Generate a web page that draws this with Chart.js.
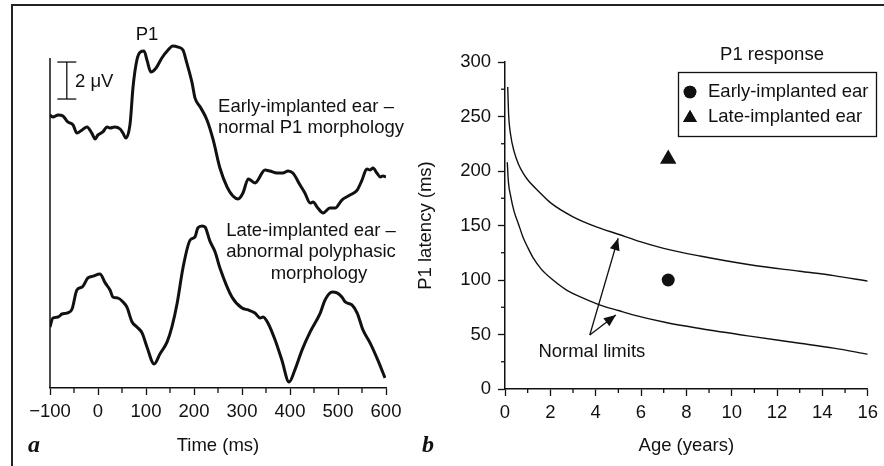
<!DOCTYPE html>
<html><head><meta charset="utf-8">
<script src="https://cdn.jsdelivr.net/npm/chart.js@4.4.1/dist/chart.umd.min.js"></script>
<style>
html,body{margin:0;padding:0;background:#fff;}
#wrap{position:relative;width:884px;height:466px;overflow:hidden;background:#fff;}
#frame{position:absolute;left:11px;top:4px;width:900px;height:500px;border-top:2px solid #222;border-left:2px solid #222;}
#a{position:absolute;left:0;top:0;}
#b{position:absolute;left:400px;top:0;}
</style></head><body>
<div id="wrap"><div id="frame"></div>
<canvas id="a" width="440" height="466"></canvas>
<canvas id="b" width="484" height="466"></canvas>
</div>
<script>
// ---------- Panel a: evoked responses (time in ms, amplitude in µV, arbitrary baseline) ----------
const earlyTime = [-100,-94,-83,-73,-63,-52,-44,-33,-23,-13,-6,0,10,19,25,35,46,52,58,67,73,81,88,96,102,110,121,133,146,156,167,177,185,196,202,213,227,240,254,269,281,292,302,313,327,348,358,373,385,396,406,421,431,442,448,458,469,483,494,508,525,540,550,560,567,573,581,588,594,600];
const earlyUV   = [14.76,14.65,14.76,14.70,14.38,14.22,13.78,13.95,14.11,13.78,13.46,13.68,13.84,14.11,14.05,14.11,14.00,13.78,13.51,14.32,16.27,17.73,18.16,18.22,17.73,17.08,17.30,17.84,18.27,18.49,18.43,18.27,17.57,16.49,15.68,15.19,14.49,13.41,11.89,10.86,10.38,10.22,10.54,11.30,11.08,11.78,11.73,11.62,11.62,11.73,11.62,10.97,10.54,10.00,10.05,9.73,9.46,9.73,9.73,10.16,10.43,10.70,11.24,11.84,11.78,11.89,11.62,11.41,11.46,11.41];
const lateTime  = [-100,-94,-83,-75,-65,-54,-44,-33,-21,-10,4,15,25,31,42,52,60,71,81,92,102,117,129,144,154,165,177,192,202,208,217,223,233,244,254,279,300,313,327,338,344,354,369,383,398,410,425,442,463,473,488,498,508,515,529,540,552,567,583,598];
const lateUV    = [3.30,3.78,3.84,4.00,4.05,4.27,5.30,5.46,5.95,6.05,6.16,5.68,5.30,4.92,4.86,4.65,4.38,3.57,3.30,2.97,2.22,1.30,1.84,2.49,3.30,4.59,6.49,8.00,8.16,8.65,8.76,8.70,7.95,7.35,6.49,4.92,4.32,4.22,4.05,3.78,3.84,3.51,2.59,1.51,0.32,0.97,2.05,3.03,4.05,4.76,5.19,5.14,4.92,4.65,4.49,4.05,3.14,2.43,1.51,0.54];
const timeTicks = [-100,0,100,200,300,400,500,600];
const timeMinor = [-50,50,150,250,350,450,550];

// ---------- Panel b: P1 latency vs age ----------
const ageUpper = [0.12,0.16,0.25,0.4,0.6,0.8,1.0,1.5,2.0,3.0,4.0,5.0,6.0,7.0,8.6,10.8,13.0,14.5,16.0];
const latUpper = [277,252,233,218,206,198,192,181,171,158,149,142,135,129,122,114,108,104,99];
const ageLower = [0.1,0.15,0.25,0.4,0.6,0.8,1.0,1.25,1.6,2.0,2.7,3.5,4.2,5.0,5.65,7.1,8.6,10.8,13.0,14.5,16.0];
const latLower = [208,190,177,163,151,139,130,120,110,102,91,83,77,72,68,61,55.5,48.5,42,37.5,32];
const childAge = [7.2];
const earlyLatency = [100];
const lateLatency = [211];
const seriesNames = ['Early-implanted ear','Late-implanted ear'];
const ageTicks = [0,2,4,6,8,10,12,14,16];
const ageMinor = [1,3,5,7,9,11,13,15];
const latTicks = [0,50,100,150,200,250,300];
const latMinor = [25,75,125,175,225,275];

const FONT = "'Liberation Sans', Arial, Helvetica, sans-serif";
const FS = 18.5;
const pairs = (xs, ys) => xs.map((x, i) => ({x: x, y: ys[i]}));

function text(ctx, s, x, y, align, font, base) {
  ctx.save();
  ctx.fillStyle = '#111';
  ctx.font = font || (FS + 'px ' + FONT);
  ctx.textAlign = align || 'center';
  ctx.textBaseline = base || 'middle';
  ctx.fillText(s, x, y);
  ctx.restore();
}
function line(ctx, x0, y0, x1, y1, w) {
  ctx.save();
  ctx.strokeStyle = '#111';
  ctx.lineWidth = w || 1.3;
  ctx.beginPath(); ctx.moveTo(x0, y0); ctx.lineTo(x1, y1); ctx.stroke();
  ctx.restore();
}
function arrow(ctx, x0, y0, x1, y1) {
  line(ctx, x0, y0, x1, y1, 1.3);
  const a = Math.atan2(y1 - y0, x1 - x0), L = 12, W = 5;
  ctx.save();
  ctx.fillStyle = '#111';
  ctx.beginPath();
  ctx.moveTo(x1, y1);
  ctx.lineTo(x1 - L * Math.cos(a) + W * Math.sin(a), y1 - L * Math.sin(a) - W * Math.cos(a));
  ctx.lineTo(x1 - L * Math.cos(a) - W * Math.sin(a), y1 - L * Math.sin(a) + W * Math.cos(a));
  ctx.closePath(); ctx.fill();
  ctx.restore();
}

const minorTicks = {
  id: 'minorTicks',
  afterDraw(chart, args, opts) {
    const ctx = chart.ctx;
    (opts.list || []).forEach(m => {
      const s = chart.scales[m.axis];
      m.values.forEach(v => {
        const p = s.getPixelForValue(v);
        if (m.axis === 'x') line(ctx, p, s.top, p, s.top + m.len, 1.3);
        else line(ctx, s.right - m.len, p, s.right, p, 1.3);
      });
    });
  }
};

const axisCommon = {
  border: {display: true, color: '#111', width: 1.5},
  grid: {drawOnChartArea: false, drawTicks: true, tickLength: 7, tickColor: '#111', tickWidth: 1.3},
};

// ---------- Chart a ----------
const panelA = {
  id: 'panelA',
  afterDatasetsDraw(chart) {
    const ctx = chart.ctx, xs = chart.scales.x, ys = chart.scales.y;
    // vertical amplitude axis
    const xa = xs.getPixelForValue(-100);
    line(ctx, xa, ys.getPixelForValue(0), xa, ys.getPixelForValue(17.84), 1.5);
    // 2 µV scale bar
    const xb = xs.getPixelForValue(-65);
    const yb0 = ys.getPixelForValue(15.62), yb1 = ys.getPixelForValue(17.62);
    line(ctx, xb, yb0, xb, yb1, 1.3);
    line(ctx, xb - 9.5, yb0, xb + 9.5, yb0, 1.3);
    line(ctx, xb - 9.5, yb1, xb + 9.5, yb1, 1.3);
    text(ctx, '2 \u03bcV', 75, 82, 'left');
    text(ctx, 'P1', 147, 35);
    text(ctx, 'Early-implanted ear \u2013', 306, 107);
    text(ctx, 'normal P1 morphology', 311, 128);
    text(ctx, 'Late-implanted ear \u2013', 311, 231);
    text(ctx, 'abnormal polyphasic', 311, 252);
    text(ctx, 'morphology', 319, 274);
    text(ctx, 'a', 34, 452, 'center', 'italic bold 24px "Liberation Serif", "Times New Roman", serif', 'alphabetic');
  }
};

new Chart(document.getElementById('a'), {
  type: 'line',
  data: {
    datasets: [
      {label: 'Early-implanted ear', data: pairs(earlyTime, earlyUV), borderColor: '#111', borderWidth: 3, pointRadius: 0, cubicInterpolationMode: 'monotone', fill: false},
      {label: 'Late-implanted ear', data: pairs(lateTime, lateUV), borderColor: '#111', borderWidth: 3, pointRadius: 0, cubicInterpolationMode: 'monotone', fill: false}
    ]
  },
  options: {
    responsive: false, animation: false, devicePixelRatio: 1,
    layout: {padding: {left: 50, right: 54, top: 27.25, bottom: 0}},
    plugins: {legend: {display: false}, tooltip: {enabled: false},
      minorTicks: {list: [{axis: 'x', values: timeMinor, len: 5}]}},
    scales: {
      x: Object.assign({}, axisCommon, {
        type: 'linear', min: -100, max: 600,
        afterFit: s => { s.height = 78; },
        afterBuildTicks: s => { s.ticks = timeTicks.map(v => ({value: v})); },
        ticks: {color: '#111', font: {family: FONT, size: FS}, padding: 6, maxRotation: 0,
          callback: v => String(v).replace('-', '\u2212')},
        title: {display: true, text: 'Time (ms)', color: '#111', font: {family: FONT, size: FS}, padding: {top: 0, bottom: 9}}
      }),
      y: {type: 'linear', display: false, min: 0, max: 19.5}
    }
  },
  plugins: [minorTicks, panelA]
});

// ---------- Chart b ----------
const panelB = {
  id: 'panelB',
  afterDatasetsDraw(chart) {
    const ctx = chart.ctx, xs = chart.scales.x, ys = chart.scales.y;
    // legend
    ctx.save();
    ctx.strokeStyle = '#111'; ctx.lineWidth = 1.3;
    ctx.strokeRect(278.5, 72.5, 198, 64);
    ctx.restore();
    text(ctx, 'P1 response', 372, 55);
    const items = [chart.data.datasets[2], chart.data.datasets[3]];
    items.forEach((d, i) => {
      const y = 92 + i * 25;
      Chart.helpers.drawPoint(ctx, {pointStyle: d.pointStyle, radius: i ? 8 : 6.3, rotation: 0, borderWidth: 0}, 290, i ? y + 1 : y);
      ctx.save(); ctx.fillStyle = '#111'; ctx.fill(); ctx.restore();
      text(ctx, d.label, 308, y, 'left');
    });
    // normal-limits arrows
    const ax = xs.getPixelForValue(3.74), ay = ys.getPixelForValue(49.5);
    arrow(ctx, ax, ay, xs.getPixelForValue(4.99), ys.getPixelForValue(138.3));
    arrow(ctx, ax, ay, xs.getPixelForValue(4.89), ys.getPixelForValue(67.9));
    text(ctx, 'Normal limits', xs.getPixelForValue(3.83), ys.getPixelForValue(34));
    text(ctx, 'b', 28, 452, 'center', 'italic bold 24px "Liberation Serif", "Times New Roman", serif', 'alphabetic');
  }
};

new Chart(document.getElementById('b'), {
  type: 'line',
  data: {
    datasets: [
      {label: 'Upper normal limit', data: pairs(ageUpper, latUpper), borderColor: '#111', borderWidth: 1.4, pointRadius: 0, cubicInterpolationMode: 'monotone', fill: false},
      {label: 'Lower normal limit', data: pairs(ageLower, latLower), borderColor: '#111', borderWidth: 1.4, pointRadius: 0, cubicInterpolationMode: 'monotone', fill: false},
      {label: seriesNames[0], data: pairs(childAge, earlyLatency), showLine: false, pointStyle: 'circle', pointRadius: 6.5, backgroundColor: '#111', borderColor: '#111', borderWidth: 0},
      {label: seriesNames[1], data: pairs(childAge, lateLatency), showLine: false, pointStyle: 'triangle', pointRadius: 9.5, backgroundColor: '#111', borderColor: '#111', borderWidth: 0}
    ]
  },
  options: {
    responsive: false, animation: false, devicePixelRatio: 1,
    layout: {padding: {left: 0, right: 16, top: 62, bottom: 0}},
    plugins: {legend: {display: false}, tooltip: {enabled: false},
      minorTicks: {list: [{axis: 'x', values: ageMinor, len: 4}, {axis: 'y', values: latMinor, len: 4}]}},
    scales: {
      x: Object.assign({}, axisCommon, {
        type: 'linear', min: 0, max: 16,
        afterFit: s => { s.height = 77; },
        afterBuildTicks: s => { s.ticks = ageTicks.map(v => ({value: v})); },
        ticks: {color: '#111', font: {family: FONT, size: FS}, padding: 6, maxRotation: 0},
        title: {display: true, text: 'Age (years)', color: '#111', font: {family: FONT, size: FS}, padding: {top: 0, bottom: 9}}
      }),
      y: Object.assign({}, axisCommon, {
        type: 'linear', min: 0, max: 300,
        afterFit: s => { s.width = 105; },
        afterBuildTicks: s => { s.ticks = latTicks.map(v => ({value: v})); },
        ticks: {color: '#111', font: {family: FONT, size: FS}, padding: 7},
        title: {display: true, text: 'P1 latency (ms)', color: '#111', font: {family: FONT, size: FS}, padding: {top: 15, bottom: 0}}
      })
    }
  },
  plugins: [minorTicks, panelB]
});
</script>
</body></html>
